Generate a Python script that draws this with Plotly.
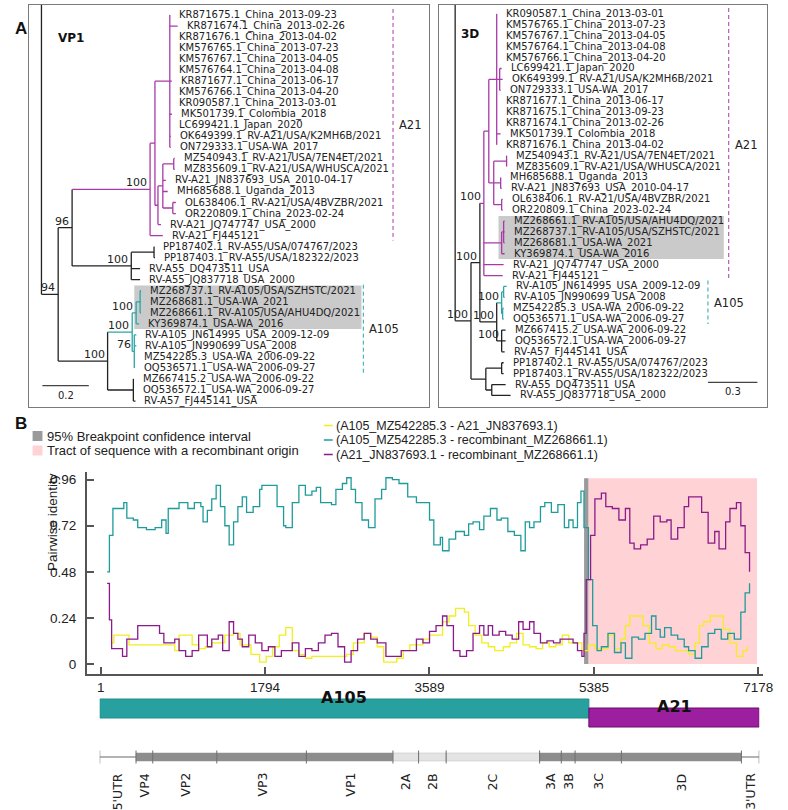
import plotly.graph_objects as go

W, H = 788, 810


def px(x):
    return x / W


def py(y):
    return 1 - y / H


# ---------------- panel A data: the two trees (branch lengths in subst./site) ----------------
vp1_newick = (
    "((((((KR871675.1_China_2013-09-23:0.001,KR871674.1_China_2013-02-26:0.034,KR871676.1_China_2013-04-02:0.001,"
    "KM576765.1_China_2013-07-23:0.001,KM576767.1_China_2013-04-05:0.001,KM576764.1_China_2013-04-08:0.001,"
    "KR871677.1_China_2013-06-17:0.009,KM576766.1_China_2013-04-20:0.001,KR090587.1_China_2013-03-01:0.001,"
    "MK501739.1_Colombia_2018:0.009,LC699421.1_Japan_2020:0.001,OK649399.1_RV-A21/USA/K2MH6B/2021:0.004,"
    "ON729333.1_USA-WA_2017:0.004):0.064,"
    "(((MZ540943.1_RV-A21/USA/7EN4ET/2021:0.004,MZ835609.1_RV-A21/USA/WHUSCA/2021:0.004):0.047,"
    "RV-A21_JN837693_USA_2010-04-17:0.013,MH685688.1_Uganda_2013:0.021,"
    "(OL638406.1_RV-A21/USA/4BVZBR/2021:0.013,OR220809.1_China_2023-02-24:0.013):0.043):0.021,"
    "RV-A21_JQ747747_USA_2000:0.013):0.013):0.021,"
    "RV-A21_FJ445121:0.055)100:0.336,"
    "((PP187402.1_RV-A55/USA/074767/2023:0.001,PP187403.1_RV-A55/USA/182322/2023:0.004):0.098,"
    "RV-A55_DQ473511_USA:0.038,RV-A55_JQ837718_USA_2000:0.038)100:0.255)96:0.060,"
    "((((MZ268737.1_RV-A105/USA/SZHSTC/2021:0.004,MZ268681.1_USA-WA_2021:0.004,"
    "MZ268661.1_RV-A105/USA/AHU4DQ/2021:0.004):0.017,KY369874.1_USA-WA_2016:0.013)100:0.017,"
    "(RV-A105_JN614995_USA_2009-12-09:0.009,RV-A105_JN990699_USA_2008:0.009,"
    "MZ542285.3_USA-WA_2006-09-22:0.001,OQ536571.1_USA-WA_2006-09-27:0.001)76:0.009)100:0.106,"
    "(MZ667415.2_USA-WA_2006-09-22:0.001,OQ536572.1_USA-WA_2006-09-27:0.001,"
    "RV-A57_FJ445141_USA:0.009):0.111)100:0.213)94:0.072);"
)

d3_newick = (
    "((((((KR090587.1_China_2013-03-01:0.001,KM576765.1_China_2013-07-23:0.001,KM576767.1_China_2013-04-05:0.001,"
    "KM576764.1_China_2013-04-08:0.001,KM576766.1_China_2013-04-20:0.001,"
    "(LC699421.1_Japan_2020:0.012,OK649399.1_RV-A21/USA/K2MH6B/2021:0.018,ON729333.1_USA-WA_2017:0.006):0.018,"
    "KR871677.1_China_2013-06-17:0.001,KR871675.1_China_2013-09-23:0.001,KR871674.1_China_2013-02-26:0.001,"
    "MK501739.1_Colombia_2018:0.024,KR871676.1_China_2013-04-02:0.001):0.048,"
    "((MZ540943.1_RV-A21/USA/7EN4ET/2021:0.001,MZ835609.1_RV-A21/USA/WHUSCA/2021:0.001):0.078,"
    "(MH685688.1_Uganda_2013:0.001,RV-A21_JN837693_USA_2010-04-17:0.006):0.042,"
    "(OL638406.1_RV-A21/USA/4BVZBR/2021:0.006,OR220809.1_China_2023-02-24:0.006):0.048):0.030):0.030,"
    "((MZ268661.1_RV-A105/USA/AHU4DQ/2021:0.006,MZ268737.1_RV-A105/USA/SZHSTC/2021:0.006,"
    "MZ268681.1_USA-WA_2021:0.006):0.012,KY369874.1_USA-WA_2016:0.018):0.108,"
    "RV-A21_JQ747747_USA_2000:0.120,"
    "RV-A21_FJ445121:0.114)100:0.024,"
    "(((RV-A105_JN614995_USA_2009-12-09:0.018,RV-A105_JN990699_USA_2008:0.006):0.012,"
    "(MZ542285.3_USA-WA_2006-09-22:0.006,OQ536571.1_USA-WA_2006-09-27:0.006):0.006)100:0.030,"
    "(MZ667415.2_USA-WA_2006-09-22:0.024,OQ536572.1_USA-WA_2006-09-27:0.024,"
    "RV-A57_FJ445141_USA:0.018)100:0.030)100:0.102)100:0.054,"
    "((PP187402.1_RV-A55/USA/074767/2023:0.012,PP187403.1_RV-A55/USA/182322/2023:0.012):0.096,"
    "(RV-A55_DQ473511_USA:0.084,RV-A55_JQ837718_USA_2000:0.114):0.036):0.090)100:0.096);"
)

a21_refs = ["KR871675", "KR871674", "KR871676", "KM576765", "KM576767", "KM576764", "KR871677",
            "KM576766", "KR090587", "MK501739", "LC699421", "OK649399", "ON729333", "MZ540943",
            "MZ835609", "RV-A21_JN837693", "MH685688", "OL638406", "OR220809", "RV-A21_JQ747747",
            "RV-A21_FJ445121"]
a105_refs = ["RV-A105_JN614995", "RV-A105_JN990699", "MZ542285", "OQ536571"]
recombinants = ["MZ268737", "MZ268681", "MZ268661", "KY369874"]

# ---------------- panel B data ----------------
genome_length = 7178
x_ticks = [1, 1794, 3589, 5385, 7178]
y_ticks = [0, 0.24, 0.48, 0.72, 0.96]
breakpoint_ci = [5277, 5324]
recomb_tract = [5324, 7164]

series_names = ["(A105_MZ542285.3 - A21_JN837693.1)",
                "(A105_MZ542285.3 - recombinant_MZ268661.1)",
                "(A21_JN837693.1 - recombinant_MZ268661.1)"]

yellow_pos = [120, 144, 310, 809, 856, 999, 1070, 1142, 1213, 1356,
              1451, 1522, 1641, 1736, 1807, 1878, 1950, 2021, 2092, 2164,
              2235, 2306, 2686, 2758, 2877, 2948, 3019, 3090, 3233, 3304,
              3375, 3518, 3590, 3732, 3803, 3875, 3970, 4017, 4088, 4160,
              4231, 4302, 4397, 4468, 4540, 4611, 4682, 4753, 4825, 4896,
              4967, 5039, 5110, 5253, 5324, 5395, 5538, 5609, 5680, 5728,
              5776, 5918, 5990, 6061, 6132, 6204, 6275, 6418, 6489, 6536,
              6584, 6655, 6798, 6869, 6940, 7012, 7059]
yellow_val = [0.11, 0.15, 0.10, 0.07, 0.15, 0.10, 0.08, 0.09, 0.11, 0.15,
              0.16, 0.10, 0.05, 0.01, 0.04, 0.09, 0.15, 0.19, 0.07, 0.05,
              0.03, 0.04, 0.05, 0.11, 0.16, 0.14, 0.09, 0.01, 0.03, 0.07,
              0.10, 0.13, 0.15, 0.22, 0.25, 0.29, 0.27, 0.20, 0.15, 0.11,
              0.09, 0.07, 0.09, 0.11, 0.16, 0.10, 0.09, 0.08, 0.11, 0.09,
              0.10, 0.15, 0.11, 0.07, 0.10, 0.08, 0.15, 0.08, 0.13, 0.20,
              0.25, 0.20, 0.11, 0.08, 0.10, 0.09, 0.07, 0.05, 0.11, 0.20,
              0.22, 0.25, 0.18, 0.11, 0.04, 0.07, 0.09]

teal_pos = [71, 96, 134, 253, 286, 357, 405, 500, 595, 666,
            714, 738, 856, 952, 1023, 1094, 1118, 1165, 1213, 1261,
            1308, 1356, 1403, 1451, 1498, 1546, 1593, 1665, 1736, 1760,
            1878, 1926, 1997, 2021, 2092, 2164, 2235, 2306, 2354, 2401,
            2472, 2520, 2568, 2639, 2686, 2734, 2782, 2853, 2924, 2995,
            3067, 3114, 3185, 3257, 3352, 3447, 3518, 3590, 3637, 3708,
            3732, 3803, 3875, 3970, 4017, 4065, 4136, 4183, 4255, 4326,
            4373, 4445, 4516, 4587, 4635, 4682, 4730, 4801, 4848, 4920,
            4991, 5062, 5110, 5157, 5205, 5243, 5276, 5324, 5371, 5419,
            5466, 5538, 5609, 5680, 5728, 5799, 5871, 5942, 6013, 6061,
            6108, 6156, 6227, 6299, 6370, 6418, 6489, 6560, 6631, 6703,
            6774, 6845, 6917, 6988, 7035, 7083]
teal_val = [0.48, 0.67, 0.81, 0.84, 0.76, 0.75, 0.71, 0.70, 0.71, 0.75,
            0.68, 0.81, 0.84, 0.81, 0.84, 0.82, 0.74, 0.80, 0.86, 0.93,
            0.82, 0.72, 0.62, 0.74, 0.82, 0.87, 0.79, 0.82, 0.91, 0.93,
            0.93, 0.82, 0.72, 0.71, 0.84, 0.93, 0.88, 0.90, 0.92, 0.84,
            0.84, 0.83, 0.91, 0.94, 0.97, 0.91, 0.84, 0.75, 0.71, 0.86,
            0.91, 0.97, 0.96, 0.94, 0.87, 0.84, 0.84, 0.75, 0.62, 0.66,
            0.59, 0.65, 0.69, 0.67, 0.73, 0.74, 0.70, 0.77, 0.81, 0.75,
            0.76, 0.69, 0.67, 0.59, 0.74, 0.71, 0.74, 0.82, 0.84, 0.79,
            0.83, 0.71, 0.75, 0.71, 0.84, 0.90, 0.71, 0.44, 0.20, 0.07,
            0.09, 0.16, 0.06, 0.11, 0.03, 0.14, 0.13, 0.16, 0.25, 0.18,
            0.14, 0.19, 0.15, 0.13, 0.09, 0.07, 0.03, 0.09, 0.16, 0.18,
            0.13, 0.16, 0.13, 0.27, 0.37, 0.42]

purple_pos = [71, 96, 120, 239, 286, 405, 595, 643, 690, 809,
              856, 928, 999, 1070, 1165, 1213, 1284, 1332, 1403, 1451,
              1498, 1546, 1617, 1688, 1760, 1831, 1902, 1973, 2092, 2164,
              2235, 2306, 2377, 2449, 2520, 2591, 2663, 2734, 2805, 2877,
              2948, 3019, 3114, 3281, 3447, 3518, 3590, 3661, 3732, 3780,
              3851, 3922, 3994, 4065, 4136, 4183, 4231, 4278, 4350, 4421,
              4492, 4563, 4611, 4682, 4730, 4801, 4872, 4943, 5015, 5157,
              5205, 5253, 5276, 5300, 5348, 5395, 5466, 5514, 5585, 5657,
              5728, 5776, 5823, 5894, 5966, 6037, 6108, 6180, 6227, 6299,
              6370, 6418, 6489, 6560, 6631, 6703, 6750, 6822, 6869, 6940,
              6988, 7035, 7083]
purple_val = [0.42, 0.23, 0.08, 0.04, 0.13, 0.20, 0.20, 0.16, 0.11, 0.13,
              0.07, 0.04, 0.07, 0.15, 0.09, 0.13, 0.15, 0.07, 0.22, 0.16,
              0.13, 0.09, 0.15, 0.11, 0.07, 0.09, 0.04, 0.07, 0.11, 0.04,
              0.08, 0.07, 0.11, 0.15, 0.16, 0.09, 0.01, 0.07, 0.13, 0.16,
              0.13, 0.11, 0.04, 0.07, 0.13, 0.11, 0.17, 0.20, 0.25, 0.20,
              0.07, 0.04, 0.07, 0.16, 0.20, 0.15, 0.20, 0.15, 0.17, 0.15,
              0.13, 0.22, 0.18, 0.22, 0.16, 0.11, 0.12, 0.11, 0.13, 0.11,
              0.07, 0.04, 0.16, 0.44, 0.67, 0.86, 0.89, 0.82, 0.81, 0.75,
              0.81, 0.63, 0.60, 0.62, 0.65, 0.77, 0.74, 0.75, 0.65, 0.71,
              0.82, 0.87, 0.87, 0.79, 0.63, 0.69, 0.60, 0.74, 0.81, 0.84,
              0.72, 0.58, 0.48]

gene_names = ["5'UTR", "VP4", "VP2", "VP3", "VP1", "2A", "2B", "2C", "3A", "3B", "3C", "3D", "3'UTR"]
gene_starts = [1, 396, 578, 1275, 2250, 3192, 3471, 3771, 4788, 5024, 5174, 5678, 6984]
gene_class = ["utr", "p1", "p1", "p1", "p1", "p2", "p2", "p2", "p3", "p3", "p3", "p3", "utr"]

MAG = "#a83aa8"
TEAL = "#2ba5a5"
INK = "#222222"
TREE_FONT = "DejaVu Sans"
B_FONT = "Liberation Sans"


def parse_newick(text):
    pos = 0

    def read_node():
        nonlocal pos
        node = {"children": [], "label": "", "length": 0.0}
        if text[pos] == "(":
            pos += 1
            node["children"].append(read_node())
            while text[pos] == ",":
                pos += 1
                node["children"].append(read_node())
            pos += 1
        start = pos
        while text[pos] not in ":,);":
            pos += 1
        node["label"] = text[start:pos]
        if text[pos] == ":":
            pos += 1
            start = pos
            while text[pos] not in ",);":
                pos += 1
            node["length"] = float(text[start:pos])
        return node

    return read_node()


def place(node, x_parent, tips):
    node["x"] = x_parent + node["length"]
    if node["children"]:
        for c in node["children"]:
            place(c, node["x"], tips)
        node["y"] = (node["children"][0]["y"] + node["children"][-1]["y"]) / 2
        node["tips"] = [t for c in node["children"] for t in c["tips"]]
    else:
        node["y"] = len(tips)
        tips.append(node["label"])
        node["tips"] = [node["label"]]


def member(label, accs):
    return any(label.startswith(a) for a in accs)


fig = go.Figure()
annotations = []
shapes = []


def draw_tree(newick, clades, xa, ya, bar_x, hi_x, scale_len, scale_x0, scale_row):
    root = parse_newick(newick)
    tips = []
    place(root, 0.0, tips)

    def colour(node):
        if all(member(t, clades["A21"]) for t in node["tips"]):
            return MAG
        if all(member(t, clades["A105"]) for t in node["tips"]):
            return TEAL
        return INK

    segs = {}

    def add(col, xs, ys):
        s = segs.setdefault(col, ([], []))
        s[0].extend(xs + [None])
        s[1].extend(ys + [None])

    def walk(node, parent):
        col = colour(node)
        if parent is not None:
            add(col, [parent["x"], node["x"]], [node["y"], node["y"]])
        if node["children"]:
            add(col, [node["x"], node["x"]],
                [node["children"][0]["y"], node["children"][-1]["y"]])
            if node["label"]:
                annotations.append(dict(x=node["x"], y=node["y"], xref=xa, yref=ya, text=node["label"],
                                        xanchor="right", yanchor="bottom", xshift=-1, yshift=-2,
                                        showarrow=False, font=dict(family=TREE_FONT, size=11, color=INK)))
            for c in node["children"]:
                walk(c, node)
        else:
            annotations.append(dict(x=node["x"], y=node["y"], xref=xa, yref=ya, text=node["label"],
                                    xanchor="left", yanchor="middle", xshift=7,
                                    showarrow=False, font=dict(family=TREE_FONT, size=10, color=INK)))

    walk(root, None)
    # stem toward the (off-panel) outgroup
    add(INK, [0, 0], [root["children"][0]["y"], -5])

    for col, (xs, ys) in segs.items():
        fig.add_trace(go.Scatter(x=xs, y=ys, mode="lines", line=dict(color=col, width=1.3),
                                 xaxis=xa, yaxis=ya, hoverinfo="skip", showlegend=False))

    # highlight of the recombinant sequences
    rows = [i for i, t in enumerate(tips) if member(t, recombinants)]
    shapes.append(dict(type="rect", xref=xa, yref=ya, x0=hi_x[0], x1=hi_x[1],
                       y0=min(rows) - 0.47, y1=max(rows) + 0.47,
                       fillcolor="#cacaca", line=dict(width=0), layer="below"))

    # clade bars
    for name, col in (("A21", MAG), ("A105", TEAL)):
        rows = [i for i, t in enumerate(tips) if member(t, clades[name])]
        shapes.append(dict(type="line", xref=xa, yref=ya, x0=bar_x[name], x1=bar_x[name],
                           y0=min(rows) - 0.55, y1=max(rows) + 0.45,
                           line=dict(color=col, width=1, dash="4px,3px")))
        annotations.append(dict(x=bar_x[name], y=(min(rows) + max(rows)) / 2, xref=xa, yref=ya,
                                text=name, xanchor="left", xshift=4, showarrow=False,
                                font=dict(family=TREE_FONT, size=11.5, color=INK)))

    # scale bar
    shapes.append(dict(type="line", xref=xa, yref=ya, x0=scale_x0, x1=scale_x0 + scale_len,
                       y0=scale_row, y1=scale_row, line=dict(color="#444", width=1.3)))
    annotations.append(dict(x=scale_x0 + scale_len / 2, y=scale_row, xref=xa, yref=ya,
                            text=str(scale_len), yanchor="top", yshift=-2, showarrow=False,
                            font=dict(family=TREE_FONT, size=10, color=INK)))


draw_tree(vp1_newick, {"A21": a21_refs, "A105": a105_refs + recombinants}, "x", "y",
          {"A21": 1.515, "A105": 1.387}, (0.40, 1.379), 0.2, 0.004, 33.6)
draw_tree(d3_newick, {"A21": a21_refs + recombinants, "A105": a105_refs}, "x2", "y2",
          {"A21": 1.659, "A105": 1.533}, (0.263, 1.629), 0.3, 1.533, 33.8)

annotations.append(dict(x=px(57), y=py(29), xref="paper", yref="paper", text="<b>VP1</b>",
                        xanchor="left", showarrow=False, font=dict(family=TREE_FONT, size=12, color="#111")))
annotations.append(dict(x=px(465), y=py(25), xref="paper", yref="paper", text="<b>3D</b>",
                        xanchor="left", showarrow=False, font=dict(family=TREE_FONT, size=12, color="#111")))
for letter, (lx, ly) in (("A", (13, 17)), ("B", (13, 423))):
    annotations.append(dict(x=px(lx), y=py(ly), xref="paper", yref="paper", text=f"<b>{letter}</b>",
                            showarrow=False, font=dict(family=B_FONT, size=17, color="#111")))

# ---------------- panel B: identity plot ----------------
line_cols = ["#f2ef1c", "#1e9b9b", "#8b1a8b"]
for name, xs, ys, col in zip(series_names, [yellow_pos, teal_pos, purple_pos],
                             [yellow_val, teal_val, purple_val], line_cols):
    fig.add_trace(go.Scatter(x=xs, y=ys, mode="lines", name=name, line=dict(color=col, width=1.3, shape="hv"),
                             xaxis="x3", yaxis="y3", hoverinfo="skip", showlegend=False))

shapes.append(dict(type="rect", xref="x3", yref="y3", x0=recomb_tract[0], x1=recomb_tract[1], y0=0, y1=0.967,
                   fillcolor="#ffd2d5", line=dict(width=0), layer="below"))
shapes.append(dict(type="rect", xref="x3", yref="y3", x0=breakpoint_ci[0], x1=breakpoint_ci[1], y0=0, y1=0.967,
                   fillcolor="#9a9a9a", line=dict(width=0), layer="below"))

# legend
for (label, col), ly in zip((("95% Breakpoint confidence interval", "#9a9a9a"),
                             ("Tract of sequence with a recombinant origin", "#ffd2d5")), (436, 450.5)):
    shapes.append(dict(type="rect", xref="paper", yref="paper", x0=px(33), x1=px(43), y0=py(ly + 5), y1=py(ly - 5),
                       fillcolor=col, line=dict(width=0)))
    annotations.append(dict(x=px(47), y=py(ly), xref="paper", yref="paper", text=label, xanchor="left",
                            showarrow=False, borderpad=0,
                            font=dict(family=B_FONT, size=13, color=INK)))
for name, col, ly in zip(series_names, line_cols, (425.5, 440, 454.5)):
    shapes.append(dict(type="line", xref="paper", yref="paper", x0=px(328), x1=px(337), y0=py(ly), y1=py(ly),
                       line=dict(color=col, width=1.5)))
    annotations.append(dict(x=px(339), y=py(ly), xref="paper", yref="paper", text=name, xanchor="left",
                            showarrow=False, borderpad=0,
                            font=dict(family=B_FONT, size=12.5, color=INK)))

annotations.append(dict(x=px(43), y=py(573), xref="paper", yref="paper", text="Pairwise identity",
                        textangle=-90, showarrow=False, font=dict(family=B_FONT, size=13.5, color=INK)))

# ---------------- genome map ----------------
gene_ends = gene_starts[1:] + [genome_length]
fig.add_trace(go.Scatter(x=[1, genome_length], y=[0, 0], mode="lines", line=dict(color="#9a9a9a", width=1.5),
                         xaxis="x4", yaxis="y4", hoverinfo="skip", showlegend=False))
band_cols = {"p1": "#8d8d8d", "p2": "#e4e4e4", "p3": "#8d8d8d"}
for name, s, e, cls in zip(gene_names, gene_starts, gene_ends, gene_class):
    if cls != "utr":
        shapes.append(dict(type="rect", xref="x4", yref="y4", x0=s, x1=e, y0=-0.4, y1=0.4,
                           fillcolor=band_cols[cls],
                           line=dict(width=0.5, color="#bdbdbd" if cls == "p2" else band_cols[cls])))
    annotations.append(dict(x=(s + e) / 2, y=py(772), xref="x4", yref="paper", text=name, textangle=-90,
                            xanchor="center", yanchor="top", showarrow=False, borderpad=0,
                            font=dict(family=TREE_FONT, size=12.5, color=INK)))
for b in gene_starts + [genome_length]:
    shapes.append(dict(type="line", xref="x4", yref="y4", x0=b, x1=b, y0=-0.65, y1=0.65,
                       line=dict(color="#6e6e6e", width=1)))

bp = recomb_tract[0]
for lab, x0, x1, y0, y1, fill, edge in (("A105", 1, bp, 699, 718, "#28a0a0", "#1f8c8c"),
                                        ("A21", bp, genome_length, 708, 727, "#9b1f9f", "#6a0d6c")):
    shapes.append(dict(type="rect", xref="x4", yref="paper", x0=x0, x1=x1, y0=py(y1), y1=py(y0),
                       fillcolor=fill, line=dict(color=edge, width=1)))
    annotations.append(dict(x=(x0 + x1) / 2, y=py((y0 + y1) / 2), xref="x4", yref="paper", text=f"<b>{lab}</b>",
                            showarrow=False, font=dict(family=TREE_FONT, size=16, color="#111")))

tree_axis = dict(showline=True, mirror=True, linecolor="#7a7a7a", linewidth=1, showticklabels=False,
                 ticks="", showgrid=False, zeroline=False)

fig.update_layout(
    width=W, height=H, margin=dict(l=0, r=0, t=0, b=0),
    paper_bgcolor="white", plot_bgcolor="white", showlegend=False,
    xaxis=dict(domain=[px(29), px(435)], range=[-0.0553, 1.672], anchor="y", **tree_axis),
    yaxis=dict(domain=[py(407), py(5)], range=[35.54, -0.907], anchor="x", **tree_axis),
    xaxis2=dict(domain=[px(445), px(777)], range=[-0.0958, 1.892], anchor="y2", **tree_axis),
    yaxis2=dict(domain=[py(407), py(5)], range=[36.06, -0.826], anchor="x2", **tree_axis),
    xaxis3=dict(domain=[px(88), px(773)], range=[-150, 7232], anchor="y3", tickvals=x_ticks,
                ticktext=[str(v) for v in x_ticks], ticks="inside", ticklen=7, tickwidth=1.5, tickcolor="#555",
                showline=True, linecolor="#555", linewidth=2, showgrid=False, zeroline=False,
                tickfont=dict(family=B_FONT, size=13.5, color=INK)),
    yaxis3=dict(domain=[py(674), py(472)], range=[-0.052, 1.0], anchor="x3", tickvals=y_ticks,
                ticktext=["0", "0.24", "0.48", "0.72", "0.96"], ticks="inside", ticklen=7, tickwidth=1.5,
                tickcolor="#555", showline=True, linecolor="#555", linewidth=2, showgrid=False,
                zeroline=False, ticklabelstandoff=6, tickfont=dict(family=B_FONT, size=13.5, color=INK)),
    xaxis4=dict(domain=[px(101), px(769)], range=[1, genome_length], anchor="y4", visible=False),
    yaxis4=dict(domain=[py(767), py(747)], range=[-1, 1], anchor="x4", visible=False),
    shapes=shapes,
    annotations=annotations,
)

# drop the page's default body margin so the 788x810 figure fills the window exactly
fig.write_html("out.html", config={"displayModeBar": False},
               post_script="document.body.style.margin='0';document.body.style.overflow='hidden';")
